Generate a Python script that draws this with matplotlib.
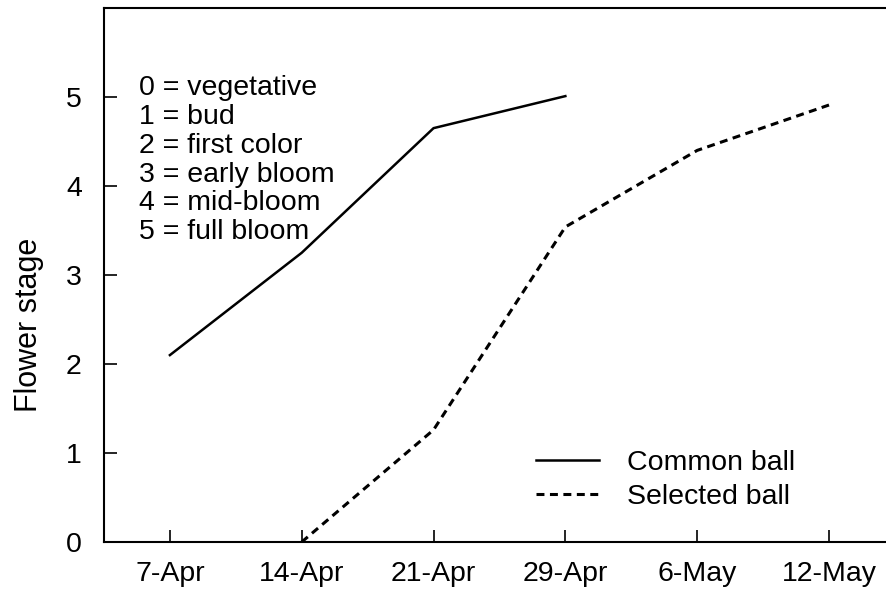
import matplotlib
matplotlib.use('Agg')
from matplotlib import pyplot as plt

dates = ['7-Apr', '14-Apr', '21-Apr', '29-Apr', '6-May', '12-May']
common_ball = [2.10, 3.25, 4.65, 5.01]
selected_ball = [0.0, 1.26, 3.54, 4.40, 4.91]
stage_key = ['0 = vegetative', '1 = bud', '2 = first color',
             '3 = early bloom', '4 = mid-bloom', '5 = full bloom']

plt.rcParams['font.family'] = ['Liberation Sans', 'DejaVu Sans']
fs = 20.5

fig = plt.figure(figsize=(8.87, 5.92), dpi=100)
ax = fig.add_axes([104/887, 50/592, 1 - 104/887, 534/592])

x_common = list(range(len(common_ball)))
x_selected = list(range(1, 1 + len(selected_ball)))
ax.plot(x_common, common_ball, color='black', lw=1.8, label='Common ball')
ax.plot(x_selected, selected_ball, color='black', lw=2.2,
        linestyle=(0, (2.6, 1.8)), label='Selected ball')

ax.set_xlim(-0.5, 5.44)
ax.set_ylim(0, 6)
ax.set_xticks(range(len(dates)))
ax.set_xticklabels(dates)
ax.set_yticks(range(6))
ax.tick_params(direction='in', length=9, width=1.2, labelsize=fs)
ax.tick_params(axis='y', pad=16)
ax.tick_params(axis='x', pad=14)
for side in ['left', 'bottom', 'top']:
    ax.spines[side].set_linewidth(1.5)
ax.spines['right'].set_visible(False)

fig.text(29/887, 1 - 325/592, 'Flower stage', rotation=90,
         ha='center', va='center', fontsize=22)

ax.text(-0.235, 4.29, '\n'.join(stage_key), ha='left', va='center',
        fontsize=fs, linespacing=1.14)

ax.legend(loc='center left', bbox_to_anchor=(0.552, 0.116), frameon=False,
          borderpad=0, borderaxespad=0, handlelength=2.2, handletextpad=1.0,
          labelspacing=0.28, fontsize=fs)

fig.savefig('out.png', dpi=100)
